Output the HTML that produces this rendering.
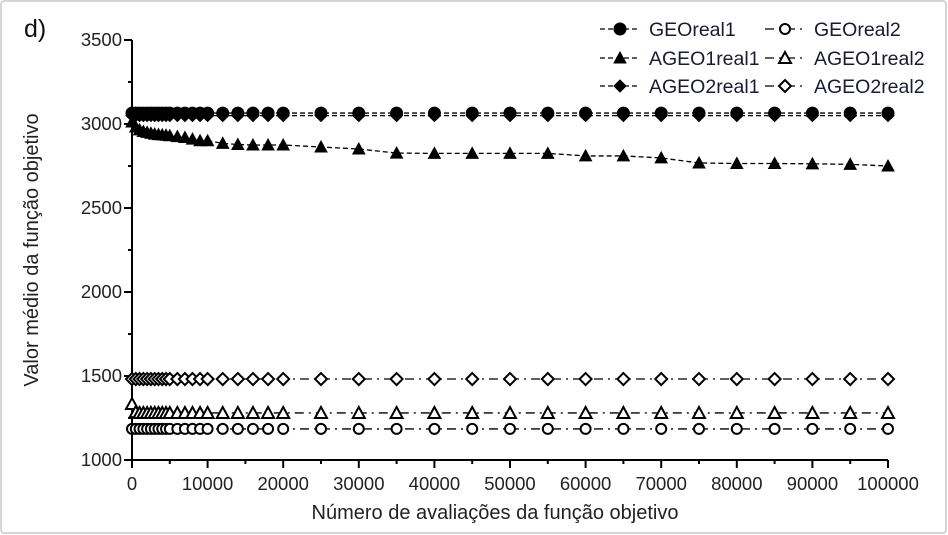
<!DOCTYPE html>
<html><head><meta charset="utf-8"><style>
body{margin:0;background:#fff;}
svg{display:block;font-family:"Liberation Sans",sans-serif;}
</style></head><body>
<svg id="chart" width="948" height="535" viewBox="0 0 948 535">
<rect x="1" y="1" width="945" height="532" rx="3" fill="#fff" stroke="#c8c8c8" stroke-width="1.5"/>
<text x="24" y="37" font-size="25" fill="#111">d)</text>
<g id="axes"></g><g id="series"></g><g id="legend"></g>
<text x="495" y="519" font-size="20" text-anchor="middle" fill="#222">Número de avaliações da função objetivo</text>
<text transform="translate(38,250) rotate(-90)" font-size="20" text-anchor="middle" fill="#222">Valor médio da função objetivo</text>
</svg>
<script>
const xs = [0,500,1000,1500,2000,2500,3000,3500,4000,4500,5000,6000,7000,8000,9000,10000,12000,14000,16000,18000,20000,25000,30000,35000,40000,45000,50000,55000,60000,65000,70000,75000,80000,85000,90000,95000,100000];
const geoReal1 = xs.map(()=>3065);
const ageo2Real1 = xs.map(()=>3050);
const ageo1Real1 = [3012,2982,2965,2955,2950,2945,2940,2937,2935,2933,2930,2925,2920,2910,2900,2900,2885,2878,2875,2875,2875,2863,2851,2827,2825,2825,2825,2825,2810,2810,2798,2768,2765,2765,2763,2760,2750];
const geoReal2 = xs.map(()=>1185);
const ageo1Real2 = [1333,1285,1280,1280,1280,1280,1280,1280,1280,1280,1280,1280,1280,1280,1280,1280,1280,1280,1280,1280,1280,1280,1280,1280,1280,1280,1280,1280,1280,1280,1280,1280,1280,1280,1280,1280,1280];
const ageo2Real2 = xs.map(()=>1482);
const xTicks = [0,10000,20000,30000,40000,50000,60000,70000,80000,90000,100000];
const yTicks = [1000,1500,2000,2500,3000,3500];

const NS="http://www.w3.org/2000/svg";
const X0=132,X1=888,Y0=460,Y1=40;
const sx=v=>X0+(v/100000)*(X1-X0);
const sy=v=>Y0-(v-1000)/2500*(Y0-Y1);
function mk(tag,attrs,parent){const e=document.createElementNS(NS,tag);for(const k in attrs)e.setAttribute(k,attrs[k]);parent.appendChild(e);return e;}
const axes=document.getElementById('axes');
let e=mk('line',{x1:X0,y1:Y1,x2:X0,y2:Y0+1,stroke:'#000','stroke-width':2},axes);


e=mk('line',{x1:X0-1,y1:Y0,x2:X1,y2:Y0,stroke:'#000','stroke-width':2},axes);


yTicks.forEach(t=>{
  mk('line',{x1:X0-8,x2:X0,y1:sy(t),y2:sy(t),stroke:'#000','stroke-width':2},axes);
  if(t<3500) mk('line',{x1:X0-4,x2:X0,y1:sy(t+250),y2:sy(t+250),stroke:'#000','stroke-width':2},axes);
  const l=mk('text',{x:X0-10,y:sy(t)+6,'font-size':18.5,'text-anchor':'end',fill:'#222'},axes);
  l.textContent=t;
  
  
});
xTicks.forEach(t=>{
  mk('line',{x1:sx(t),x2:sx(t),y1:Y0,y2:Y0+8,stroke:'#000','stroke-width':2},axes);
  if(t<100000) mk('line',{x1:sx(t+5000),x2:sx(t+5000),y1:Y0,y2:Y0+4,stroke:'#000','stroke-width':2},axes);
  const l=mk('text',{x:sx(t),y:Y0+30,'font-size':18.5,'text-anchor':'middle',fill:'#222'},axes);
  l.textContent=t;
  
  
});
function marker(g,shape,filled,x,y){
  const a={fill:filled?'#000':'#fff',stroke:'#000','stroke-width':filled?1:2};
  if(shape==='circle') mk('circle',Object.assign({cx:x,cy:y,r:filled?6:5},a),g);
  else if(shape==='tri') mk('polygon',Object.assign({points:`${x},${y-6} ${x-6},${y+5} ${x+6},${y+5}`},a),g);
  else mk('polygon',Object.assign({points:`${x},${y-6} ${x+6},${y} ${x},${y+6} ${x-6},${y}`},a),g);
}
const series=[
 {name:'GEOreal1',vals:geoReal1,shape:'circle',filled:true},
 {name:'AGEO1real1',vals:ageo1Real1,shape:'tri',filled:true},
 {name:'AGEO2real1',vals:ageo2Real1,shape:'diamond',filled:true},
 {name:'GEOreal2',vals:geoReal2,shape:'circle',filled:false},
 {name:'AGEO1real2',vals:ageo1Real2,shape:'tri',filled:false},
 {name:'AGEO2real2',vals:ageo2Real2,shape:'diamond',filled:false}];
const sg=document.getElementById('series');
series.forEach(s=>{
  const g=mk('g',{},sg);
  
  
  const pts=xs.map((x,i)=>sx(x)+','+sy(s.vals[i])).join(' ');
  mk('polyline',{points:pts,fill:'none',stroke:'#000','stroke-width':1.3,'stroke-dasharray':s.filled?'5,3':'9,5,2,5'},g);
  xs.forEach((x,i)=>marker(g,s.shape,s.filled,sx(x),sy(s.vals[i])));
});
const lg=document.getElementById('legend');
const legPos=[[600,29],[600,58],[600,86],[765,29],[765,58],[765,86]];
series.forEach((s,i)=>{
  const [x,y]=legPos[i];
  const g=mk('g',{},lg);
  
  
  mk('line',{x1:x,x2:x+40,y1:y,y2:y,stroke:'#000','stroke-width':1.3,'stroke-dasharray':s.filled?'5,3':'9,5,2,5'},g);
  marker(g,s.shape,s.filled,x+20,y);
  const t=mk('text',{x:x+49,y:y+7,'font-size':19.5,fill:'#1a1a33'},g);
  t.textContent=s.name;
});
</script>
</body></html>
